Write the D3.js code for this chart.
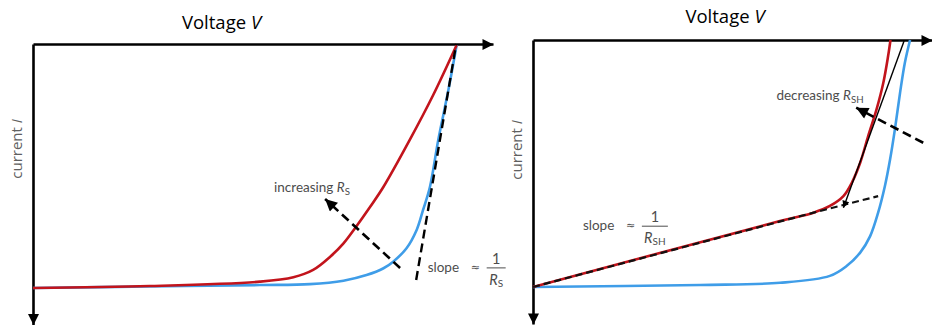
<!DOCTYPE html>
<html>
<head>
<meta charset="utf-8">
<script src="https://cdn.jsdelivr.net/npm/d3@7"></script>
<style>
  html, body { margin: 0; padding: 0; background: #fff; }
  svg { display: block; }
</style>
</head>
<body>
<svg id="chart" width="932" height="329"></svg>
<script>
// Schematic I–V curves of a solar cell (voltage 0–100 along the axis, current 0–115 downward).

// Left panel: effect of series resistance R_S
const seriesLowV  = [0, 25, 49.3, 60.2, 67.5, 72.5, 76.2, 78.3, 81.2, 83.4, 84.8, 86.3, 88.1, 90.3, 92.1];
const seriesLowI  = [100, 99.4, 98.8, 98.4, 97.0, 94.7, 91.9, 89.2, 83.7, 76.2, 68.0, 58.5, 39.3, 18.9, 0.4];
const seriesHighV = [0, 25.4, 49.3, 56.6, 60.9, 64.6, 67.5, 70.0, 73.3, 76.2, 81.9, 87.0, 92.1];
const seriesHighI = [100, 99.2, 97.4, 95.6, 92.6, 87.2, 81.7, 75.5, 66.7, 58.5, 39.3, 20.9, 0.4];
const seriesSlopeV = [83.3, 92.0];
const seriesSlopeI = [96.7, 0];
const seriesArrowV = [79.8, 63.5];
const seriesArrowI = [91.8, 63.5];

// Right panel: effect of shunt resistance R_SH
const shuntHighV = [0, 41.9, 61.9, 74.4, 78.6, 82.0, 84.5, 86.5, 88.2, 89.5, 90.7, 92.0, 93.2, 94.5];
const shuntHighI = [100, 99.2, 98.3, 95.5, 91.5, 86.1, 79.4, 69.9, 59.1, 48.3, 36.2, 21.3, 9.2, 0];
const shuntLowV  = [0, 61.9, 70.3, 74.4, 77.8, 79.9, 82.0, 84.0, 86.1, 87.8, 89.0, 89.6];
const shuntLowI  = [100, 73.3, 69.9, 67.2, 63.2, 57.8, 49.7, 38.9, 28.1, 17.3, 6.5, 0];
const shuntSlopeV = [0, 70.3, 86.5];
const shuntSlopeI = [100, 69.9, 63.2];
const shuntTangentV = [93.0, 77.8];
const shuntTangentI = [0.4, 67.9];
const shuntArrowV = [97.8, 81.0];
const shuntArrowI = [41.6, 27.4];

const axisTitle = "Voltage";
const axisTitleVar = "V";
const yTitle = "current";
const yTitleVar = "I";

const RED = "#c2141c";
const BLUE = "#3f9de8";
const GREY = "#4d4d4d";

const svg = d3.select("#chart");
const defs = svg.append("defs");

function marker(id, w, h) {
  defs.append("marker")
    .attr("id", id)
    .attr("viewBox", "0 0 10 10")
    .attr("refX", 10).attr("refY", 5)
    .attr("markerUnits", "userSpaceOnUse")
    .attr("markerWidth", w).attr("markerHeight", h)
    .attr("orient", "auto")
    .append("path").attr("d", "M0,0L10,5L0,10Z").attr("fill", "#000");
}
marker("axisHead", 15, 11);
marker("dashHead", 14, 12);
marker("thinHead", 9, 7);

const zip = (vs, is) => vs.map((v, k) => ({ v, i: is[k] }));

function panel(cfg) {
  const x = d3.scaleLinear().domain([0, 100]).range([cfg.x0, cfg.x1]);
  const y = d3.scaleLinear().domain([0, 115]).range([cfg.y0, cfg.y0 + 115 * cfg.unitY]);
  const g = svg.append("g");

  const line = d3.line().x(d => x(d.v)).y(d => y(d.i));
  const smooth = d3.line().x(d => x(d.v)).y(d => y(d.i)).curve(d3.curveCatmullRom.alpha(0.5));

  // axes
  const ax = g.append("g").attr("transform", `translate(0,${cfg.y0})`)
    .call(d3.axisTop(x).tickValues([]).tickSizeOuter(0));
  ax.select(".domain").attr("stroke", "#000").attr("stroke-width", 2.6)
    .attr("marker-end", "url(#axisHead)");
  const ay = g.append("g").attr("transform", `translate(${cfg.x0},0)`)
    .call(d3.axisLeft(y).tickValues([]).tickSizeOuter(0));
  ay.select(".domain").attr("stroke", "#000").attr("stroke-width", 2.6)
    .attr("marker-end", "url(#axisHead)");

  // axis titles
  const t = g.append("text")
    .attr("x", cfg.titleX).attr("y", cfg.titleY)
    .attr("text-anchor", "middle")
    .attr("font-family", "'Open Sans', sans-serif").attr("font-size", 18.5).attr("fill", "#000");
  t.append("tspan").text(axisTitle + " ");
  t.append("tspan").attr("font-style", "italic").text(axisTitleVar);

  const yt = g.append("text")
    .attr("transform", `translate(${cfg.x0 - 11},${y(cfg.yTitleAt)}) rotate(-90)`)
    .attr("text-anchor", "middle")
    .attr("font-family", "'Open Sans', sans-serif")
    .attr("font-size", 15).attr("fill", "#606060");
  yt.append("tspan").text(yTitle + " ");
  yt.append("tspan").attr("font-style", "italic").text(yTitleVar);

  return { g, x, y, line, smooth };
}

function label(g, px, py, word, sub, size) {
  const t = g.append("text").attr("x", px).attr("y", py)
    .attr("font-family", "Lato, sans-serif").attr("font-size", size).attr("fill", GREY);
  t.append("tspan").text(word + " ");
  t.append("tspan").attr("font-style", "italic").text("R");
  t.append("tspan").attr("font-size", size * 0.72).attr("dy", 3).text(sub);
}

function slopeLabel(g, px, py, sub, fw) {
  const f = "Lato, sans-serif";
  g.append("text").attr("x", px).attr("y", py).attr("font-family", f)
    .attr("font-size", 13.5).attr("fill", GREY).text("slope");
  g.append("text").attr("x", px + 43).attr("y", py - 1).attr("font-family", "'DejaVu Sans', sans-serif")
    .attr("font-size", 11).attr("fill", GREY).text("≈");
  const fx = px + 59;
  g.append("text").attr("x", fx + fw / 2).attr("y", py - 8).attr("text-anchor", "middle")
    .attr("font-family", f).attr("font-size", 14.5).attr("fill", GREY).text("1");
  g.append("line").attr("x1", fx).attr("x2", fx + fw).attr("y1", py - 4).attr("y2", py - 4)
    .attr("stroke", GREY).attr("stroke-width", 1);
  const r = g.append("text").attr("x", fx + fw / 2).attr("y", py + 13).attr("text-anchor", "middle")
    .attr("font-family", f).attr("font-size", 14.5).attr("fill", GREY);
  r.append("tspan").attr("font-style", "italic").text("R");
  r.append("tspan").attr("font-size", 10).attr("dy", 2).text(sub);
}

// ---- left panel ----
const L = panel({ x0: 33, x1: 493, y0: 44, unitY: 2.44, titleX: 221.5, titleY: 29, yTitleAt: 43 });
L.g.append("path").datum(zip(seriesLowV, seriesLowI)).attr("d", L.smooth)
  .attr("fill", "none").attr("stroke", BLUE).attr("stroke-width", 2.6);
L.g.append("path").datum(zip(seriesHighV, seriesHighI)).attr("d", L.smooth)
  .attr("fill", "none").attr("stroke", RED).attr("stroke-width", 2.6);
L.g.append("path").datum(zip(seriesSlopeV, seriesSlopeI)).attr("d", L.line)
  .attr("fill", "none").attr("stroke", "#000").attr("stroke-width", 2.4)
  .attr("stroke-dasharray", "9,5");
L.g.append("path").datum(zip(seriesArrowV, seriesArrowI)).attr("d", L.line)
  .attr("fill", "none").attr("stroke", "#000").attr("stroke-width", 2.6)
  .attr("stroke-dasharray", "9,5").attr("marker-end", "url(#dashHead)");
label(L.g, L.x(52.4), L.y(60.8), "increasing", "S", 13.5);
slopeLabel(L.g, L.x(85.8), L.y(93.4), "S", 19);

// ---- right panel ----
const R = panel({ x0: 533, x1: 932, y0: 40, unitY: 2.47, titleX: 725, titleY: 23, yTitleAt: 44.5 });
R.g.append("path").datum(zip(shuntHighV, shuntHighI)).attr("d", R.smooth)
  .attr("fill", "none").attr("stroke", BLUE).attr("stroke-width", 2.6);
R.g.append("path").datum(zip(shuntLowV, shuntLowI)).attr("d", R.smooth)
  .attr("fill", "none").attr("stroke", RED).attr("stroke-width", 2.6);
R.g.append("path").datum(zip(shuntSlopeV, shuntSlopeI)).attr("d", R.line)
  .attr("fill", "none").attr("stroke", "#111").attr("stroke-width", 2.2)
  .attr("stroke-dasharray", "7,4");
R.g.append("path").datum(zip(shuntTangentV, shuntTangentI)).attr("d", R.line)
  .attr("fill", "none").attr("stroke", "#000").attr("stroke-width", 1.4)
  .attr("marker-end", "url(#thinHead)");
R.g.append("path").datum(zip(shuntArrowV, shuntArrowI)).attr("d", R.line)
  .attr("fill", "none").attr("stroke", "#000").attr("stroke-width", 2.6)
  .attr("stroke-dasharray", "9,5").attr("marker-end", "url(#dashHead)");
label(R.g, R.x(61.0), R.y(24.3), "decreasing", "SH", 13.5);
slopeLabel(R.g, R.x(12.5), R.y(77), "SH", 26);
</script>
</body>
</html>
